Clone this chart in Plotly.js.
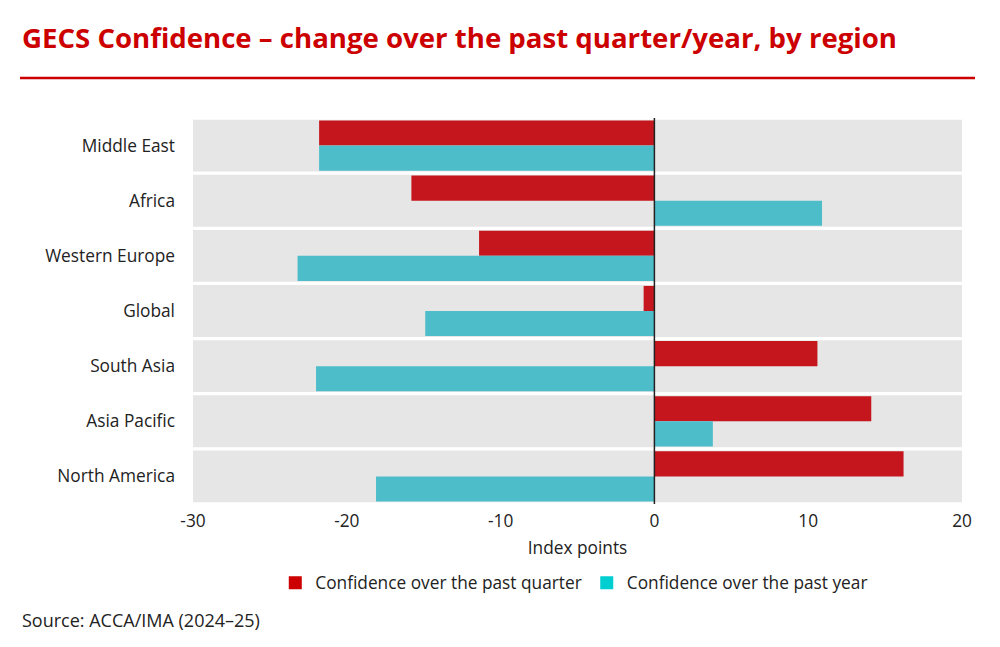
<!DOCTYPE html>
<html>
<head>
<meta charset="utf-8">
<script src="https://cdn.plot.ly/plotly-3.0.1.min.js"></script>
<style>html,body{margin:0;padding:0;background:#fff;}#chart{width:1000px;height:647px;}</style>
</head>
<body>
<div id="chart"></div>
<script>
const regions = ["Middle East", "Africa", "Western Europe", "Global", "South Asia", "Asia Pacific", "North America"];
const pastQuarter = [-21.8, -15.8, -11.4, -0.7, 10.6, 14.1, 16.2];
const pastYear = [-21.8, 10.9, -23.2, -14.9, -22.0, 3.8, -18.1];
const seriesNames = ["Confidence over the past quarter", "Confidence over the past year"];
const xTicks = [-30, -20, -10, 0, 10, 20];

const FONT = "'Open Sans', sans-serif";
const RED = "#C4161C", TEAL = "#4DBDCA";
const FS = 17.3;

const traces = [
  {type: "bar", orientation: "h", y: regions, x: pastQuarter, name: seriesNames[0],
   marker: {color: RED}, showlegend: false, hoverinfo: "x+y"},
  {type: "bar", orientation: "h", y: regions, x: pastYear, name: seriesNames[1],
   marker: {color: TEAL}, showlegend: false, hoverinfo: "x+y"},
  {type: "scatter", mode: "markers", x: [null], y: [null], name: seriesNames[0],
   marker: {symbol: "square", size: 13, color: "#CC0000"}},
  {type: "scatter", mode: "markers", x: [null], y: [null], name: seriesNames[1],
   marker: {symbol: "square", size: 13, color: "#00CED1"}}
];

const shapes = regions.map((r, i) => ({
  type: "rect", xref: "paper", yref: "y", x0: 0, x1: 1, y0: i - 0.47, y1: i + 0.47,
  fillcolor: "#E6E6E6", line: {width: 0}, layer: "below"
}));
shapes.push({type: "line", xref: "x", yref: "paper", x0: 0, x1: 0, y0: 0, y1: 1,
  line: {color: "#222", width: 1.5}, layer: "above"});
shapes.push({type: "line", xref: "paper", yref: "paper", x0: -0.225, x1: 1.0169, y0: 1.1036, y1: 1.1036,
  line: {color: "#CC0000", width: 2.5}});

const layout = {
  width: 1000, height: 647,
  margin: {l: 193, r: 38, t: 118, b: 143},
  paper_bgcolor: "#fff", plot_bgcolor: "#fff",
  font: {family: FONT, size: FS, color: "#222"},
  barmode: "group", bargap: 0.09, bargroupgap: 0,
  xaxis: {range: [-30, 20], tickvals: xTicks, ticktext: xTicks.map(String),
    showgrid: false, zeroline: false, showline: false, ticks: "", ticklabelstandoff: 5,
    tickfont: {size: FS, color: "#222"},
    title: {text: "Index points", font: {size: FS, color: "#222"}, standoff: 10}},
  yaxis: {type: "category", categoryorder: "array", categoryarray: regions, autorange: "reversed",
    showgrid: false, zeroline: false, showline: false, ticks: "", ticklabelstandoff: 17,
    tickfont: {size: FS, color: "#222"}},
  legend: {orientation: "h", x: 0.107, xanchor: "left", y: -0.158, yanchor: "top",
    font: {size: FS, color: "#222"}, itemwidth: 30, tracegroupgap: 0},
  shapes: shapes,
  annotations: [
    {xref: "paper", yref: "paper", x: -0.225, y: 1.211, xanchor: "left", yanchor: "middle",
     text: "<b>GECS Confidence – change over the past quarter/year, by region</b>", showarrow: false,
     font: {family: FONT, size: 27.6, color: "#CC0000"}},
    {xref: "paper", yref: "paper", x: -0.225, y: -0.3005, xanchor: "left", yanchor: "middle",
     text: "Source: ACCA/IMA (2024–25)", showarrow: false,
     font: {family: FONT, size: 18, color: "#222"}}
  ]
};

Plotly.newPlot("chart", traces, layout, {displayModeBar: false, staticPlot: true});
</script>
</body>
</html>
